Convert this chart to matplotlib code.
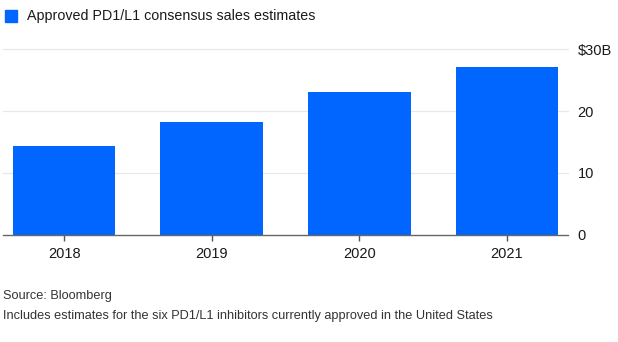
import matplotlib
matplotlib.use("Agg")
import matplotlib.pyplot as plt
from matplotlib.patches import Rectangle

plt.rcParams['font.family'] = ['Liberation Sans', 'DejaVu Sans']

years = ["2018", "2019", "2020", "2021"]
sales = [14.4, 18.3, 23.1, 27.1]
y_ticks = [0, 10, 20, 30]
y_tick_labels = ["0", "10", "20", "$30B"]

BLUE = "#0066ff"
TEXT = "#1a1a1a"

fig = plt.figure(figsize=(6.18, 3.42), dpi=100)
W, H = 618, 342
ax = fig.add_axes([3 / W, 1 - 234.5 / H, 565 / W, (234.5 - 49.5) / H])

x = range(len(years))
ax.bar(x, sales, width=0.695, color=BLUE, zorder=2)
ax.set_xlim(-0.415, 3.415)
ax.set_ylim(0, 30)

ax.set_xticks(list(x))
ax.set_xticklabels(years, fontsize=10.5, color=TEXT)
ax.set_yticks(y_ticks)
ax.set_yticklabels(y_tick_labels, fontsize=10.5, color=TEXT)
ax.yaxis.tick_right()
ax.tick_params(axis='y', length=0, pad=7)
ax.tick_params(axis='x', length=4, width=1, color="#555555", pad=5)

for v in y_ticks[1:]:
    ax.axhline(v, color="#e8e8e8", lw=0.9, zorder=1, clip_on=False)

for s in ["top", "left", "right"]:
    ax.spines[s].set_visible(False)
ax.spines["bottom"].set_color("#666666")
ax.spines["bottom"].set_linewidth(1.0)
ax.spines["bottom"].set_zorder(3)

# legend
fig.patches.append(Rectangle((5 / W, 1 - 22 / H), 12 / W, 12 / H,
                             transform=fig.transFigure, color=BLUE))
fig.text(27 / W, 1 - 16 / H, "Approved PD1/L1 consensus sales estimates",
         fontsize=10.3, color=TEXT, va="center", ha="left")

# footer
fig.text(3 / W, 1 - 296 / H, "Source: Bloomberg", fontsize=9.2,
         color="#333333", va="center", ha="left")
fig.text(3 / W, 1 - 316 / H,
         "Includes estimates for the six PD1/L1 inhibitors currently approved in the United States",
         fontsize=9.2, color="#333333", va="center", ha="left")

fig.savefig("out.png", dpi=100)
